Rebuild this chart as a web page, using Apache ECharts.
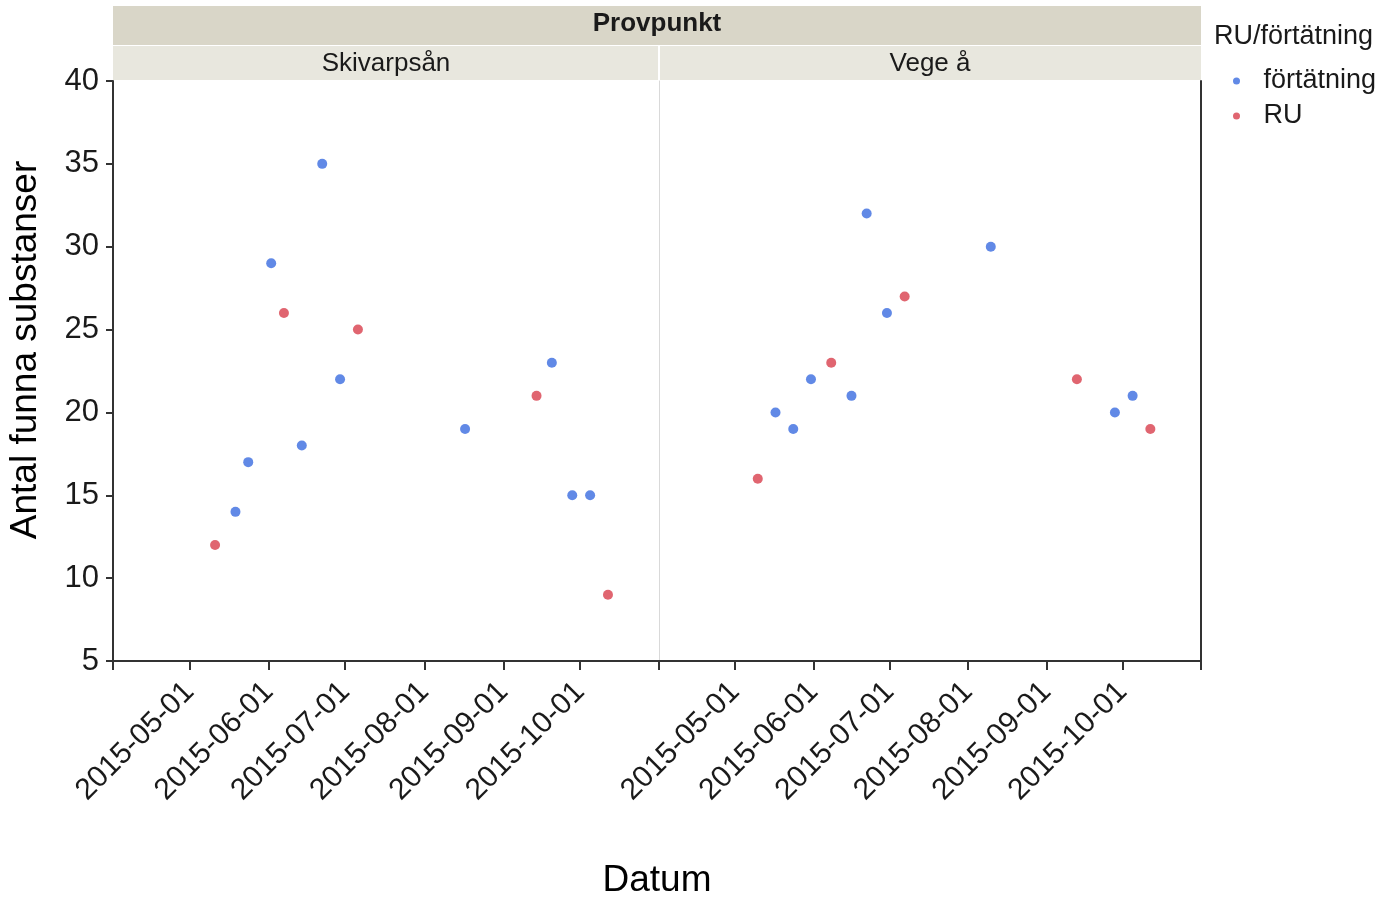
<!DOCTYPE html>
<html>
<head>
<meta charset="utf-8">
<script src="https://cdn.jsdelivr.net/npm/echarts@6/dist/echarts.min.js"></script>
<style>
  html, body { margin: 0; padding: 0; background: #fff; }
  #chart { width: 1379px; height: 897px; }
</style>
</head>
<body>
<div id="chart"></div>
<script>
// facets
const panels = ['Skivarpsån', 'Vege å'];
const groups = ['förtätning', 'RU'];

// Skivarpsån
const skivFortDates = ['2015-05-19', '2015-05-24', '2015-06-02', '2015-06-14', '2015-06-22', '2015-06-29', '2015-08-17', '2015-09-20', '2015-09-28', '2015-10-05'];
const skivFortValues = [14, 17, 29, 18, 35, 22, 19, 23, 15, 15];
const skivRuDates = ['2015-05-11', '2015-06-07', '2015-07-06', '2015-09-14', '2015-10-12'];
const skivRuValues = [12, 26, 25, 21, 9];

// Vege å
const vegeFortDates = ['2015-05-17', '2015-05-24', '2015-05-31', '2015-06-16', '2015-06-22', '2015-06-30', '2015-08-10', '2015-09-28', '2015-10-05'];
const vegeFortValues = [20, 19, 22, 21, 32, 26, 30, 20, 21];
const vegeRuDates = ['2015-05-10', '2015-06-08', '2015-07-07', '2015-09-13', '2015-10-12'];
const vegeRuValues = [16, 23, 27, 22, 19];

// axes
const tickDates = ['2015-04-01', '2015-05-01', '2015-06-01', '2015-07-01', '2015-08-01', '2015-09-01', '2015-10-01', '2015-11-01'];
const labelDates = ['2015-05-01', '2015-06-01', '2015-07-01', '2015-08-01', '2015-09-01', '2015-10-01'];
const yMin = 5, yMax = 40, yStep = 5;

const colors = ['#3a6be0', '#d83e4c'];
const font = 'Arial, "Liberation Sans", sans-serif';

// dates as day numbers (UTC) so a plain value axis can place them
const toDay = (s) => Date.UTC(+s.slice(0, 4), +s.slice(5, 7) - 1, +s.slice(8, 10)) / 86400000;
const fromDay = (d) => new Date(Math.round(d) * 86400000).toISOString().slice(0, 10);
const pairs = (dates, vals) => dates.map((d, i) => [toDay(d), vals[i]]);

const makeX = (gridIndex) => ({
    type: 'value',
    gridIndex: gridIndex,
    min: toDay(tickDates[0]),
    max: toDay(tickDates[tickDates.length - 1]),
    axisLine: { lineStyle: { color: '#333', width: 2 } },
    axisTick: { show: true, length: 9, lineStyle: { color: '#333', width: 2 }, customValues: tickDates.map(toDay) },
    axisLabel: {
        rotate: 45,
        margin: 26,
        fontSize: 30,
        fontFamily: font,
        color: '#1a1a1a',
        customValues: labelDates.map(toDay),
        formatter: (v) => fromDay(v)
    },
    splitLine: { show: false }
});

const chart = echarts.init(document.getElementById('chart'));

const option = {
    animation: false,
    grid: [
        { left: 113, top: 81, width: 546, height: 580, outerBoundsMode: 'none' },
        { left: 659, top: 81, width: 542, height: 580, outerBoundsMode: 'none' }
    ],
    xAxis: [makeX(0), makeX(1)],
    yAxis: [
        {
            type: 'value', gridIndex: 0, min: yMin, max: yMax, interval: yStep,
            axisLine: { show: true, lineStyle: { color: '#333', width: 2 } },
            axisTick: { show: true, length: 7, lineStyle: { color: '#333', width: 2 } },
            axisLabel: { fontSize: 31, fontFamily: font, color: '#1a1a1a', margin: 14 },
            splitLine: { show: false }
        },
        {
            type: 'value', gridIndex: 1, min: yMin, max: yMax, interval: yStep,
            axisLine: { show: true, lineStyle: { color: '#d9d9d9', width: 1 } },
            axisTick: { show: false },
            axisLabel: { show: false },
            splitLine: { show: false }
        },
        {
            type: 'value', gridIndex: 1, position: 'right', min: yMin, max: yMax, interval: yStep,
            axisLine: { show: true, lineStyle: { color: '#333', width: 2 } },
            axisTick: { show: false },
            axisLabel: { show: false },
            splitLine: { show: false }
        }
    ],
    legend: {
        orient: 'vertical',
        left: 1228,
        top: 61,
        icon: 'circle',
        itemWidth: 30,
        itemHeight: 7,
        itemGap: 5,
        data: groups,
        textStyle: { fontSize: 27, fontFamily: font, color: '#1a1a1a', lineHeight: 30, padding: [0, 0, 0, 7] }
    },
    graphic: [
        { type: 'rect', shape: { x: 113, y: 6, width: 1088, height: 39 }, style: { fill: '#d9d6c8' } },
        { type: 'rect', shape: { x: 113, y: 46, width: 545, height: 34 }, style: { fill: '#e8e7de' } },
        { type: 'rect', shape: { x: 660, y: 46, width: 541, height: 34 }, style: { fill: '#e8e7de' } },
        { type: 'text', x: 657, y: 24, style: { text: 'Provpunkt', font: 'bold 26px ' + font, fill: '#1a1a1a', align: 'center', verticalAlign: 'middle' } },
        { type: 'text', x: 386, y: 64, style: { text: panels[0], font: '26px ' + font, fill: '#1a1a1a', align: 'center', verticalAlign: 'middle' } },
        { type: 'text', x: 930, y: 64, style: { text: panels[1], font: '26px ' + font, fill: '#1a1a1a', align: 'center', verticalAlign: 'middle' } },
        { type: 'text', x: 1214, y: 37, style: { text: 'RU/förtätning', font: '27px ' + font, fill: '#1a1a1a', align: 'left', verticalAlign: 'middle' } },
        { type: 'text', x: 26, y: 350, rotation: Math.PI / 2, style: { text: 'Antal funna substanser', font: '37px ' + font, fill: '#000', align: 'center', verticalAlign: 'middle' } },
        { type: 'text', x: 657, y: 881, style: { text: 'Datum', font: '37px ' + font, fill: '#000', align: 'center', verticalAlign: 'middle' } }
    ],
    series: [
        { name: groups[0], type: 'scatter', xAxisIndex: 0, yAxisIndex: 0, symbolSize: 10, itemStyle: { color: colors[0] }, data: pairs(skivFortDates, skivFortValues) },
        { name: groups[1], type: 'scatter', xAxisIndex: 0, yAxisIndex: 0, symbolSize: 10, itemStyle: { color: colors[1] }, data: pairs(skivRuDates, skivRuValues) },
        { name: groups[0], type: 'scatter', xAxisIndex: 1, yAxisIndex: 1, symbolSize: 10, itemStyle: { color: colors[0] }, data: pairs(vegeFortDates, vegeFortValues) },
        { name: groups[1], type: 'scatter', xAxisIndex: 1, yAxisIndex: 1, symbolSize: 10, itemStyle: { color: colors[1] }, data: pairs(vegeRuDates, vegeRuValues) }
    ]
};

chart.setOption(option);
</script>
</body>
</html>
